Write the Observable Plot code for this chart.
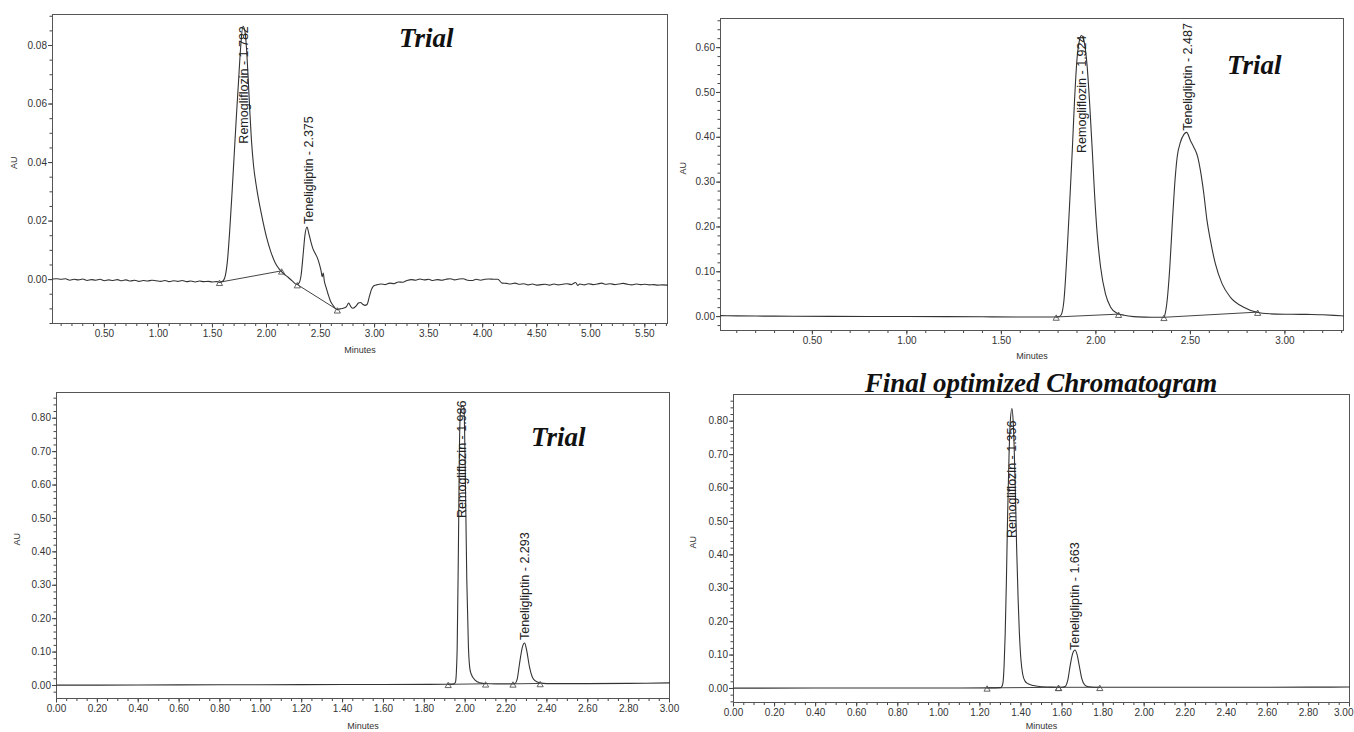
<!DOCTYPE html>
<html><head><meta charset="utf-8">
<script src="https://cdn.jsdelivr.net/npm/d3@7"></script>
<script src="https://cdn.jsdelivr.net/npm/@observablehq/plot@0.6"></script>
<style>
body{margin:0;background:#fff;}
#wrap{position:relative;width:1354px;height:732px;overflow:hidden;background:#fff;}
.panel{position:absolute;overflow:hidden;}
.panel svg{overflow:visible;}
.tag{position:absolute;font-family:"Liberation Serif","Times New Roman",serif;font-weight:bold;font-style:italic;font-size:27px;line-height:27px;color:#111;white-space:nowrap;}
</style></head><body>
<div id="wrap">
  <div class="panel" id="p1" style="left:0;top:0;width:677px;height:354px"></div>
  <div class="panel" id="p2" style="left:677px;top:0;width:677px;height:366px"></div>
  <div class="panel" id="p3" style="left:0;top:366px;width:677px;height:366px;overflow:visible"></div>
  <div class="panel" id="p4" style="left:677px;top:366px;width:677px;height:366px"></div>
  <div class="tag" style="left:399px;top:25px">Trial</div>
  <div class="tag" style="left:1227px;top:52px">Trial</div>
  <div class="tag" style="left:531px;top:424px">Trial</div>
  <div class="tag" style="left:841px;top:370px;width:400px;text-align:center">Final optimized Chromatogram</div>
</div>
<script>
// ---------- DATA (time in minutes, absorbance in AU) ----------
const trial1Trace = [
[0.02,0.0002],[0.06,0.0003],[0.10,0.0001],[0.14,0.0003],[0.18,-0.0002],[0.22,0.0001],[0.26,-0.0001],[0.30,0.0002],[0.34,-0.0003],[0.38,0.0000],[0.42,-0.0002],[0.46,0.0001],[0.50,-0.0004],[0.54,-0.0001],[0.58,-0.0003],[0.62,0.0000],[0.66,-0.0004],[0.70,-0.0001],[0.74,-0.0005],[0.78,-0.0002],[0.82,-0.0006],[0.86,-0.0003],[0.90,-0.0005],[0.94,-0.0002],[0.98,-0.0004],[1.02,-0.0006],[1.06,-0.0003],[1.10,-0.0007],[1.14,-0.0004],[1.18,-0.0006],[1.22,-0.0003],[1.26,-0.0007],[1.30,-0.0005],[1.34,-0.0008],[1.38,-0.0005],[1.42,-0.0007],[1.46,-0.0006],[1.50,-0.0008],[1.54,-0.0007],[1.57,-0.0009],
[1.60,-0.0004],[1.62,0.0015],[1.64,0.0070],[1.66,0.0170],[1.68,0.0290],[1.70,0.0420],[1.72,0.0550],[1.74,0.0670],[1.76,0.0790],[1.782,0.0866],[1.80,0.0850],[1.815,0.0790],[1.83,0.0690],[1.845,0.0580],[1.86,0.0480],[1.88,0.0390],[1.91,0.0310],[1.955,0.0220],[2.00,0.0145],[2.04,0.0095],[2.08,0.0058],[2.12,0.0035],[2.16,0.0020],[2.20,0.0008],[2.24,-0.0005],[2.28,-0.0016],
[2.30,-0.0012],[2.32,0.0015],[2.34,0.0090],[2.355,0.0150],[2.375,0.0180],[2.39,0.0160],[2.41,0.0130],[2.43,0.0105],[2.45,0.0090],[2.47,0.0075],[2.49,0.0052],[2.505,0.0030],[2.515,0.0010],[2.525,0.0022],[2.535,-0.0005],[2.55,-0.0025],[2.57,-0.0050],[2.59,-0.0072],[2.62,-0.0090],[2.65,-0.0102],[2.68,-0.0100],[2.71,-0.0098],[2.74,-0.0092],[2.76,-0.0080],[2.78,-0.0092],[2.80,-0.0098],[2.83,-0.0090],[2.85,-0.0080],[2.87,-0.0078],[2.89,-0.0084],[2.91,-0.0088],[2.93,-0.0085],[2.95,-0.0060],[2.97,-0.0035],[2.99,-0.0022],
[3.02,-0.0018],[3.06,-0.0015],[3.10,-0.0017],[3.14,-0.0012],[3.18,-0.0014],[3.22,-0.0008],[3.26,-0.0009],[3.30,-0.0003],[3.34,0.0000],[3.38,-0.0002],[3.42,0.0002],[3.46,-0.0001],[3.50,0.0001],[3.54,-0.0003],[3.58,0.0000],[3.62,-0.0002],[3.66,0.0001],[3.70,0.0003],[3.74,-0.0001],[3.78,0.0002],[3.82,0.0003],[3.86,-0.0002],[3.90,-0.0003],[3.94,0.0001],[3.98,-0.0002],[4.02,0.0001],[4.06,0.0002],[4.10,0.0001],[4.14,0.0001],[4.18,-0.0012],[4.22,-0.0013],[4.26,-0.0015],[4.30,-0.0012],[4.34,-0.0016],[4.38,-0.0014],[4.42,-0.0018],[4.46,-0.0015],[4.50,-0.0019],[4.54,-0.0017],[4.58,-0.0016],[4.62,-0.0019],[4.66,-0.0015],[4.70,-0.0018],[4.74,-0.0016],[4.78,-0.0014],[4.82,-0.0017],[4.86,-0.0010],[4.88,-0.0020],[4.90,-0.0015],[4.94,-0.0018],[4.98,-0.0014],[5.02,-0.0017],[5.06,-0.0015],[5.10,-0.0012],[5.14,-0.0016],[5.18,-0.0014],[5.22,-0.0017],[5.26,-0.0015],[5.30,-0.0013],[5.34,-0.0016],[5.38,-0.0018],[5.42,-0.0015],[5.46,-0.0017],[5.50,-0.0016],[5.54,-0.0018],[5.58,-0.0017],[5.62,-0.0019],[5.66,-0.0018],[5.71,-0.0019]
];
const trial1Baselines = [[[1.565,-0.0009],[2.14,0.0030]], [[2.285,-0.0017],[2.655,-0.0103]]];
const trial1PeakNames = ["Remogliflozin - 1.782", "Teneligliptin - 2.375"];
const trial1PeakTimes = [1.782, 2.375];
const trial1PeakHeights = [0.0866, 0.0180];

const trial2Trace = [
[0.014,0.0022],[0.10,0.0016],[0.20,0.0012],[0.30,0.0010],[0.40,0.0008],[0.60,0.0005],[0.80,0.0003],[1.00,0.0002],[1.20,0.0000],[1.40,-0.0004],[1.60,-0.0008],[1.76,-0.0010],[1.80,-0.0006],[1.815,0.0030],[1.831,0.0360],[1.848,0.1470],[1.862,0.2590],[1.875,0.3700],[1.887,0.4820],[1.901,0.5790],[1.914,0.6180],[1.924,0.6270],[1.94,0.6090],[1.954,0.5570],[1.968,0.4680],[1.981,0.3700],[1.993,0.2730],[2.007,0.1840],[2.025,0.1100],[2.051,0.0500],[2.078,0.0210],[2.112,0.0077],[2.15,0.0030],[2.20,0.0000],[2.26,-0.0012],[2.33,-0.0016],[2.36,-0.0015],
[2.365,0.0040],[2.377,0.0360],[2.391,0.1100],[2.403,0.1990],[2.416,0.2890],[2.43,0.3560],[2.448,0.3900],[2.465,0.4060],[2.48,0.4110],[2.50,0.3930],[2.518,0.3780],[2.539,0.3560],[2.553,0.3260],[2.571,0.2740],[2.588,0.2140],[2.606,0.1700],[2.632,0.1180],[2.668,0.0730],[2.712,0.0430],[2.782,0.0210],[2.853,0.0096],[2.92,0.0062],[3.00,0.0052],[3.08,0.0050],[3.14,0.0048],[3.20,0.0040],[3.26,0.0028],[3.31,0.0015]
];
const trial2Baselines = [[[1.79,-0.0008],[2.12,0.0055]], [[2.36,-0.0015],[2.856,0.0100]]];
const trial2PeakNames = ["Remogliflozin - 1.924", "Teneligliptin - 2.487"];
const trial2PeakTimes = [1.924, 2.487];
const trial2PeakHeights = [0.627, 0.410];

const trial3Trace = [
[0.00,0.0010],[0.40,0.0014],[0.80,0.0020],[1.20,0.0026],[1.60,0.0030],[1.90,0.0035],[1.94,0.0040],[1.952,0.0090],[1.957,0.0400],[1.961,0.1150],[1.967,0.4140],[1.972,0.7130],[1.977,0.8200],[1.986,0.8380],[1.994,0.8330],[2.000,0.6600],[2.008,0.3140],[2.016,0.1150],[2.022,0.0550],[2.029,0.0350],[2.05,0.0150],[2.07,0.0080],[2.095,0.0060],[2.15,0.0048],[2.23,0.0048],
[2.245,0.0070],[2.255,0.0200],[2.266,0.0650],[2.28,0.1150],[2.291,0.1270],[2.30,0.1080],[2.315,0.0550],[2.328,0.0260],[2.34,0.0150],[2.364,0.0080],[2.40,0.0055],[2.60,0.0055],[2.80,0.0062],[3.00,0.0078]
];
const trial3Baselines = [[[1.917,0.0035],[2.10,0.0050]], [[2.234,0.0048],[2.367,0.0060]]];
const trial3PeakNames = ["Remogliflozin - 1.986", "Teneligliptin - 2.293"];
const trial3PeakTimes = [1.986, 2.293];
const trial3PeakHeights = [0.838, 0.127];

const finalTrace = [
[0.00,0.0010],[0.40,0.0012],[0.80,0.0014],[1.10,0.0016],[1.25,0.0018],[1.30,0.0025],[1.305,0.0040],[1.312,0.0150],[1.318,0.0700],[1.323,0.1600],[1.329,0.3200],[1.335,0.5200],[1.342,0.7000],[1.348,0.8000],[1.356,0.8380],[1.362,0.8000],[1.367,0.7200],[1.373,0.5800],[1.379,0.4200],[1.386,0.2700],[1.392,0.1700],[1.400,0.0850],[1.408,0.0440],[1.420,0.0220],[1.435,0.0140],[1.46,0.0090],[1.49,0.0060],[1.55,0.0040],[1.60,0.0035],
[1.615,0.0060],[1.628,0.0250],[1.640,0.0700],[1.652,0.1050],[1.663,0.1150],[1.673,0.1020],[1.684,0.0680],[1.696,0.0300],[1.710,0.0110],[1.73,0.0050],[1.78,0.0035],[2.00,0.0035],[2.50,0.0036],[2.80,0.0040],[3.00,0.0042]
];
const finalBaselines = [[[1.235,0.0018],[1.583,0.0035]], [[1.583,0.0035],[1.784,0.0035]]];
const finalPeakNames = ["Remogliflozin - 1.356", "Teneligliptin - 1.663"];
const finalPeakTimes = [1.356, 1.663];
const finalPeakHeights = [0.838, 0.115];

// tick labels
const trial1XTicks = [0.50,1.00,1.50,2.00,2.50,3.00,3.50,4.00,4.50,5.00,5.50];
const trial1YTicks = [0.00,0.02,0.04,0.06,0.08];
const trial2XTicks = [0.50,1.00,1.50,2.00,2.50,3.00];
const trial2YTicks = [0.00,0.10,0.20,0.30,0.40,0.50,0.60];
const longXTicks = [0.00,0.20,0.40,0.60,0.80,1.00,1.20,1.40,1.60,1.80,2.00,2.20,2.40,2.60,2.80,3.00];
const longYTicks = [0.00,0.10,0.20,0.30,0.40,0.50,0.60,0.70,0.80];

// ---------- DRAWING ----------
const fmt = d3.format(".2f");
const steps = (a, b, s) => d3.range(Math.round(a / s), Math.round(b / s) + 1).map(k => +(k * s).toFixed(4));
const inDom = (arr, d) => arr.filter(v => v >= d[0] - 1e-9 && v <= d[1] + 1e-9);

function drawPanel(el, c) {
  const segs = c.baselines.flatMap((s, i) => s.map(p => ({t: p[0], au: p[1], seg: i})));
  const labelMarks = c.names.map((name, i) => Plot.text([i], {
    x: () => c.times[i], y: () => c.heights[i], text: () => name,
    rotate: -90, textAnchor: c.anchors[i], dy: c.labelDy[i], dx: c.labelDx[i],
    fontSize: 12.5, fill: "#222", lineAnchor: "middle"
  }));
  const xMajor = inDom(c.xMajor, c.xd);
  const edge = c.edgeTick;
  const svg = Plot.plot({
    width: 677, height: 366,
    marginLeft: c.ml, marginRight: c.mr, marginTop: c.mt, marginBottom: c.mb,
    style: {fontFamily: "'Liberation Sans', Arial, sans-serif", fontSize: "10px", color: "#333", background: "transparent", overflow: "visible"},
    x: {domain: c.xd},
    y: {domain: c.yd},
    marks: [
      Plot.axisX({ticks: inDom(c.xMinor, c.xd), tickSize: 3, tickFormat: () => "", label: null, stroke: "#444"}),
      Plot.axisX({ticks: edge == null ? xMajor : xMajor.filter(v => v !== edge), tickSize: 4.5, tickPadding: 2, tickFormat: fmt, label: null, stroke: "#444"}),
      ...(edge == null ? [] : [
        Plot.axisX({ticks: [edge], tickSize: 4.5, tickFormat: () => "", label: null, stroke: "#444"}),
        Plot.text([edge], {x: d => d, text: d => fmt(d), frameAnchor: "bottom", lineAnchor: "top", textAnchor: "end", dy: 6.5, dx: 4, fill: "#333"})
      ]),
      Plot.axisY({ticks: inDom(c.yMinor, c.yd), tickSize: 2.5, tickFormat: () => "", label: null, stroke: "#444"}),
      Plot.axisY({ticks: inDom(c.yMajor, c.yd), tickSize: 4, tickPadding: 1.5, tickFormat: fmt, label: null, stroke: "#444"}),
      Plot.frame({stroke: "#555"}),
      Plot.line(segs, {x: "t", y: "au", z: "seg", stroke: "#444", strokeWidth: 1}),
      Plot.line(c.trace, {x: d => d[0], y: d => d[1], stroke: "#333", strokeWidth: 1.1, curve: "monotone-x"}),
      Plot.dot(segs, {x: "t", y: "au", symbol: "triangle", r: 2.3, stroke: "#555", strokeWidth: 0.9, fill: "none", dy: 1.5}),
      ...labelMarks,
      Plot.text(["Minutes"], {text: d => d, frameAnchor: "bottom", lineAnchor: "middle", dy: c.minDy, fontSize: 9, fill: "#333"}),
      Plot.text(["AU"], {text: d => d, frameAnchor: "left", lineAnchor: "middle", rotate: -90, dx: c.auDx, fontSize: 9, fill: "#333"})
    ]
  });
  document.getElementById(el).append(svg);
}

drawPanel("p1", {
  trace: trial1Trace, baselines: trial1Baselines,
  names: trial1PeakNames, times: trial1PeakTimes, heights: trial1PeakHeights,
  anchors: ["end", "start"], labelDy: [0, -3], labelDx: [1, 2],
  ml: 52, mr: 10, mt: 14, mb: 43,
  xd: [0.02, 5.71], yd: [-0.015, 0.0906],
  xMajor: trial1XTicks, xMinor: steps(0, 5.7, 0.1),
  yMajor: trial1YTicks, yMinor: steps(-0.015, 0.09, 0.005),
  minDy: 27, auDx: -38
});
drawPanel("p2", {
  trace: trial2Trace, baselines: trial2Baselines,
  names: trial2PeakNames, times: trial2PeakTimes, heights: trial2PeakHeights,
  anchors: ["end", "start"], labelDy: [0, -2], labelDx: [0, 0],
  ml: 43, mr: 11, mt: 18, mb: 36,
  xd: [0.014, 3.31], yd: [-0.031, 0.665],
  xMajor: trial2XTicks, xMinor: steps(0, 3.3, 0.1),
  yMajor: trial2YTicks, yMinor: steps(-0.02, 0.66, 0.02),
  minDy: 26, auDx: -37
});
drawPanel("p3", {
  trace: trial3Trace, baselines: trial3Baselines,
  names: trial3PeakNames, times: trial3PeakTimes, heights: trial3PeakHeights,
  anchors: ["end", "start"], labelDy: [-5, -3], labelDx: [0, 0],
  ml: 56, mr: 8, mt: 26, mb: 34,
  xd: [0, 3], yd: [-0.039, 0.877],
  xMajor: longXTicks, xMinor: steps(0, 3, 0.05),
  yMajor: longYTicks, yMinor: steps(-0.04, 0.86, 0.02),
  minDy: 28, auDx: -39
});
drawPanel("p4", {
  trace: finalTrace, baselines: finalBaselines,
  names: finalPeakNames, times: finalPeakTimes, heights: finalPeakHeights,
  anchors: ["end", "start"], labelDy: [12, 0], labelDx: [0, 0],
  ml: 56, mr: 5, mt: 28, mb: 30,
  xd: [0, 3], yd: [-0.042, 0.88],
  xMajor: longXTicks, xMinor: steps(0, 3, 0.05), edgeTick: 3.00,
  yMajor: longYTicks, yMinor: steps(-0.04, 0.86, 0.02),
  minDy: 24, auDx: -40
});
</script>
</body></html>
